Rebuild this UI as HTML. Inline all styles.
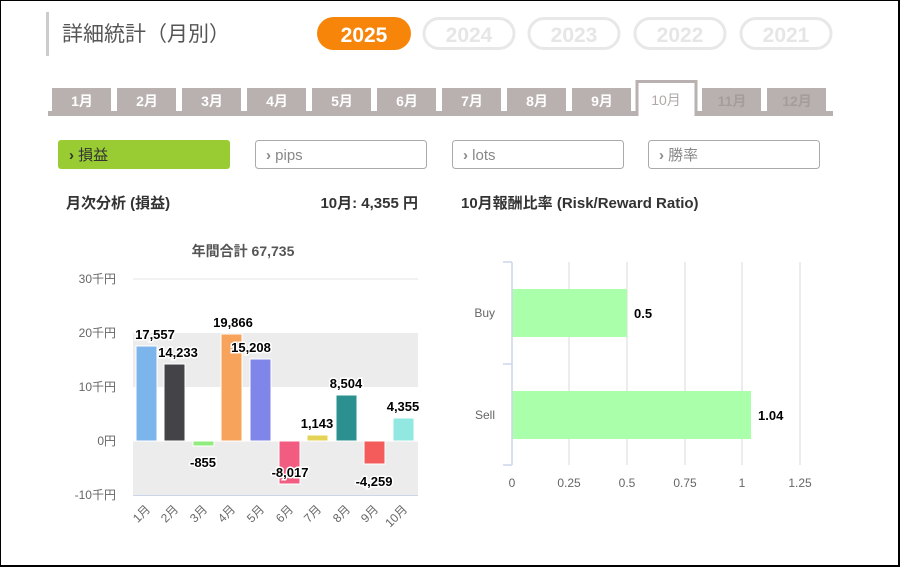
<!DOCTYPE html>
<html><head><meta charset="utf-8"><style>
body{margin:0;background:#fff}
svg{display:block}
text{font-family:"Liberation Sans","Noto Sans CJK JP",sans-serif}
</style></head><body>
<svg width="900" height="567" viewBox="0 0 900 567" xmlns="http://www.w3.org/2000/svg">
<rect x="0" y="0" width="900" height="567" fill="#fff"/>
<rect x="0.5" y="0.5" width="898" height="565" fill="none" stroke="#000" stroke-width="1"/>
<line x1="899" y1="0" x2="899" y2="567" stroke="#000" stroke-width="2"/>
<line x1="0" y1="566" x2="900" y2="566" stroke="#000" stroke-width="2"/>

<rect x="46" y="12" width="3" height="44" fill="#ccc"/>
<text x="62" y="41" font-size="21" fill="#555">詳細統計（月別）</text>

<rect x="317" y="17" width="94" height="33" rx="16.5" fill="#f7850a"/>
<text x="364" y="42" font-size="21" font-weight="bold" fill="#fff" text-anchor="middle">2025</text>
<g fill="none" stroke="#e8e8e8" stroke-width="3">
<rect x="424" y="18.5" width="90" height="30" rx="15"/>
<rect x="529" y="18.5" width="90" height="30" rx="15"/>
<rect x="635" y="18.5" width="90" height="30" rx="15"/>
<rect x="741" y="18.5" width="90" height="30" rx="15"/>
</g>
<g font-size="21" font-weight="bold" fill="#e6e6e6" text-anchor="middle">
<text x="469" y="42">2024</text><text x="574" y="42">2023</text><text x="680" y="42">2022</text><text x="786" y="42">2021</text>
</g>

<rect x="48" y="111" width="785" height="5" fill="#b9b0b0"/>
<g fill="#b9b0b0">
<rect x="52" y="88" width="59" height="24"/>
<rect x="117" y="88" width="59" height="24"/>
<rect x="182" y="88" width="59" height="24"/>
<rect x="247" y="88" width="59" height="24"/>
<rect x="312" y="88" width="59" height="24"/>
<rect x="377" y="88" width="59" height="24"/>
<rect x="442" y="88" width="59" height="24"/>
<rect x="507" y="88" width="59" height="24"/>
<rect x="572" y="88" width="59" height="24"/>
<rect x="702" y="88" width="59" height="24"/>
<rect x="767" y="88" width="59" height="24"/>
</g>
<path d="M637 116 V81.5 H696 V116" fill="#fff" stroke="#b9b0b0" stroke-width="3"/>
<rect x="638.5" y="110" width="56" height="7" fill="#fff"/>
<g font-size="14" font-weight="bold" fill="#fff" text-anchor="middle">
<text x="82" y="106">1月</text><text x="147" y="106">2月</text><text x="212" y="106">3月</text><text x="277" y="106">4月</text>
<text x="342" y="106">5月</text><text x="407" y="106">6月</text><text x="472" y="106">7月</text><text x="537" y="106">8月</text>
<text x="602" y="106">9月</text>
</g>
<text x="666" y="105" font-size="14" fill="#b0a8a8" text-anchor="middle">10月</text>
<g font-size="14" font-weight="bold" fill="#a59c9c" text-anchor="middle">
<text x="732" y="106">11月</text><text x="797" y="106">12月</text>
</g>

<rect x="58" y="140" width="172" height="29" rx="3" fill="#99cc33"/>
<g fill="#fff" stroke="#aaa" stroke-width="1">
<rect x="255.5" y="140.5" width="171" height="28" rx="3"/>
<rect x="452.5" y="140.5" width="171" height="28" rx="3"/>
<rect x="648.5" y="140.5" width="171" height="28" rx="3"/>
</g>
<text x="69" y="160" font-size="15" fill="#333"><tspan font-weight="bold">›</tspan> 損益</text>
<g font-size="15" fill="#888">
<text x="266" y="160"><tspan font-weight="bold">›</tspan> pips</text>
<text x="463" y="160"><tspan font-weight="bold">›</tspan> lots</text>
<text x="659" y="160"><tspan font-weight="bold">›</tspan> 勝率</text>
</g>

<g font-size="15" font-weight="bold" fill="#333">
<text x="66" y="208">月次分析 (損益)</text>
<text x="418" y="208" text-anchor="end">10月:  4,355 円</text>
<text x="461" y="208">10月報酬比率 (Risk/Reward Ratio)</text>
</g>

<text x="243" y="256" font-size="14" font-weight="bold" fill="#555" text-anchor="middle">年間合計 67,735</text>
<rect x="133" y="333" width="285" height="54" fill="#ececec"/>
<rect x="133" y="441" width="285" height="54" fill="#ececec"/>
<line x1="133" y1="279" x2="418" y2="279" stroke="#e6e6e6"/>
<line x1="133" y1="441" x2="418" y2="441" stroke="#fff"/>
<line x1="133" y1="495.5" x2="418" y2="495.5" stroke="#ccd6eb"/>
<g font-size="12" fill="#666" text-anchor="end">
<text x="116" y="283">30千円</text><text x="116" y="337">20千円</text><text x="116" y="391">10千円</text>
<text x="116" y="445">0円</text><text x="116" y="499">-10千円</text>
</g>
<g stroke="#fff" stroke-width="1">
<rect x="136" y="346" width="21" height="95" fill="#7cb5ec"/>
<rect x="164" y="364" width="21" height="77" fill="#434348"/>
<rect x="193" y="441" width="21" height="5" fill="#90ed7d"/>
<rect x="221" y="334" width="21" height="107" fill="#f7a35c"/>
<rect x="250" y="359" width="21" height="82" fill="#8085e9"/>
<rect x="279" y="441" width="21" height="43" fill="#f15c80"/>
<rect x="307" y="435" width="21" height="6" fill="#e4d354"/>
<rect x="336" y="395" width="21" height="46" fill="#2b908f"/>
<rect x="364" y="441" width="21" height="23" fill="#f45b5b"/>
<rect x="393" y="418" width="21" height="23" fill="#91e8e1"/>
</g>
<g font-size="13" font-weight="bold" fill="#000" text-anchor="middle" stroke="#fff" stroke-width="3" paint-order="stroke">
<text x="155" y="339">17,557</text>
<text x="178" y="357">14,233</text>
<text x="203" y="467">-855</text>
<text x="233" y="327">19,866</text>
<text x="251" y="352">15,208</text>
<text x="290" y="477">-8,017</text>
<text x="317" y="428">1,143</text>
<text x="346" y="388">8,504</text>
<text x="374" y="486">-4,259</text>
<text x="403" y="411">4,355</text>
</g>
<g font-size="12" fill="#666" text-anchor="end">
<text transform="translate(151,510) rotate(-45)">1月</text>
<text transform="translate(179,510) rotate(-45)">2月</text>
<text transform="translate(208,510) rotate(-45)">3月</text>
<text transform="translate(236,510) rotate(-45)">4月</text>
<text transform="translate(265,510) rotate(-45)">5月</text>
<text transform="translate(294,510) rotate(-45)">6月</text>
<text transform="translate(322,510) rotate(-45)">7月</text>
<text transform="translate(351,510) rotate(-45)">8月</text>
<text transform="translate(379,510) rotate(-45)">9月</text>
<text transform="translate(408,510) rotate(-45)">10月</text>
</g>

<g stroke="#e6e6e6" stroke-width="1.5">
<line x1="569" y1="262" x2="569" y2="465"/>
<line x1="627" y1="262" x2="627" y2="465"/>
<line x1="685" y1="262" x2="685" y2="465"/>
<line x1="742" y1="262" x2="742" y2="465"/>
<line x1="800" y1="262" x2="800" y2="465"/>
</g>
<rect x="512" y="289" width="115" height="48" fill="#aaffaa"/>
<rect x="512" y="391" width="239" height="48" fill="#aaffaa"/>
<g stroke="#ccd6eb" stroke-width="1.5" fill="none">
<line x1="512" y1="262" x2="512" y2="465"/>
<line x1="503" y1="262" x2="512" y2="262"/>
<line x1="503" y1="364" x2="512" y2="364"/>
<line x1="503" y1="465" x2="512" y2="465"/>
</g>
<g font-size="12" fill="#666" text-anchor="end">
<text x="495" y="317">Buy</text><text x="495" y="419">Sell</text>
</g>
<g font-size="13" font-weight="bold" fill="#000">
<text x="634" y="318">0.5</text><text x="758" y="420">1.04</text>
</g>
<g font-size="12" fill="#666" text-anchor="middle">
<text x="512" y="487">0</text><text x="569" y="487">0.25</text><text x="627" y="487">0.5</text>
<text x="685" y="487">0.75</text><text x="742" y="487">1</text><text x="800" y="487">1.25</text>
</g>
</svg>
</body></html>
